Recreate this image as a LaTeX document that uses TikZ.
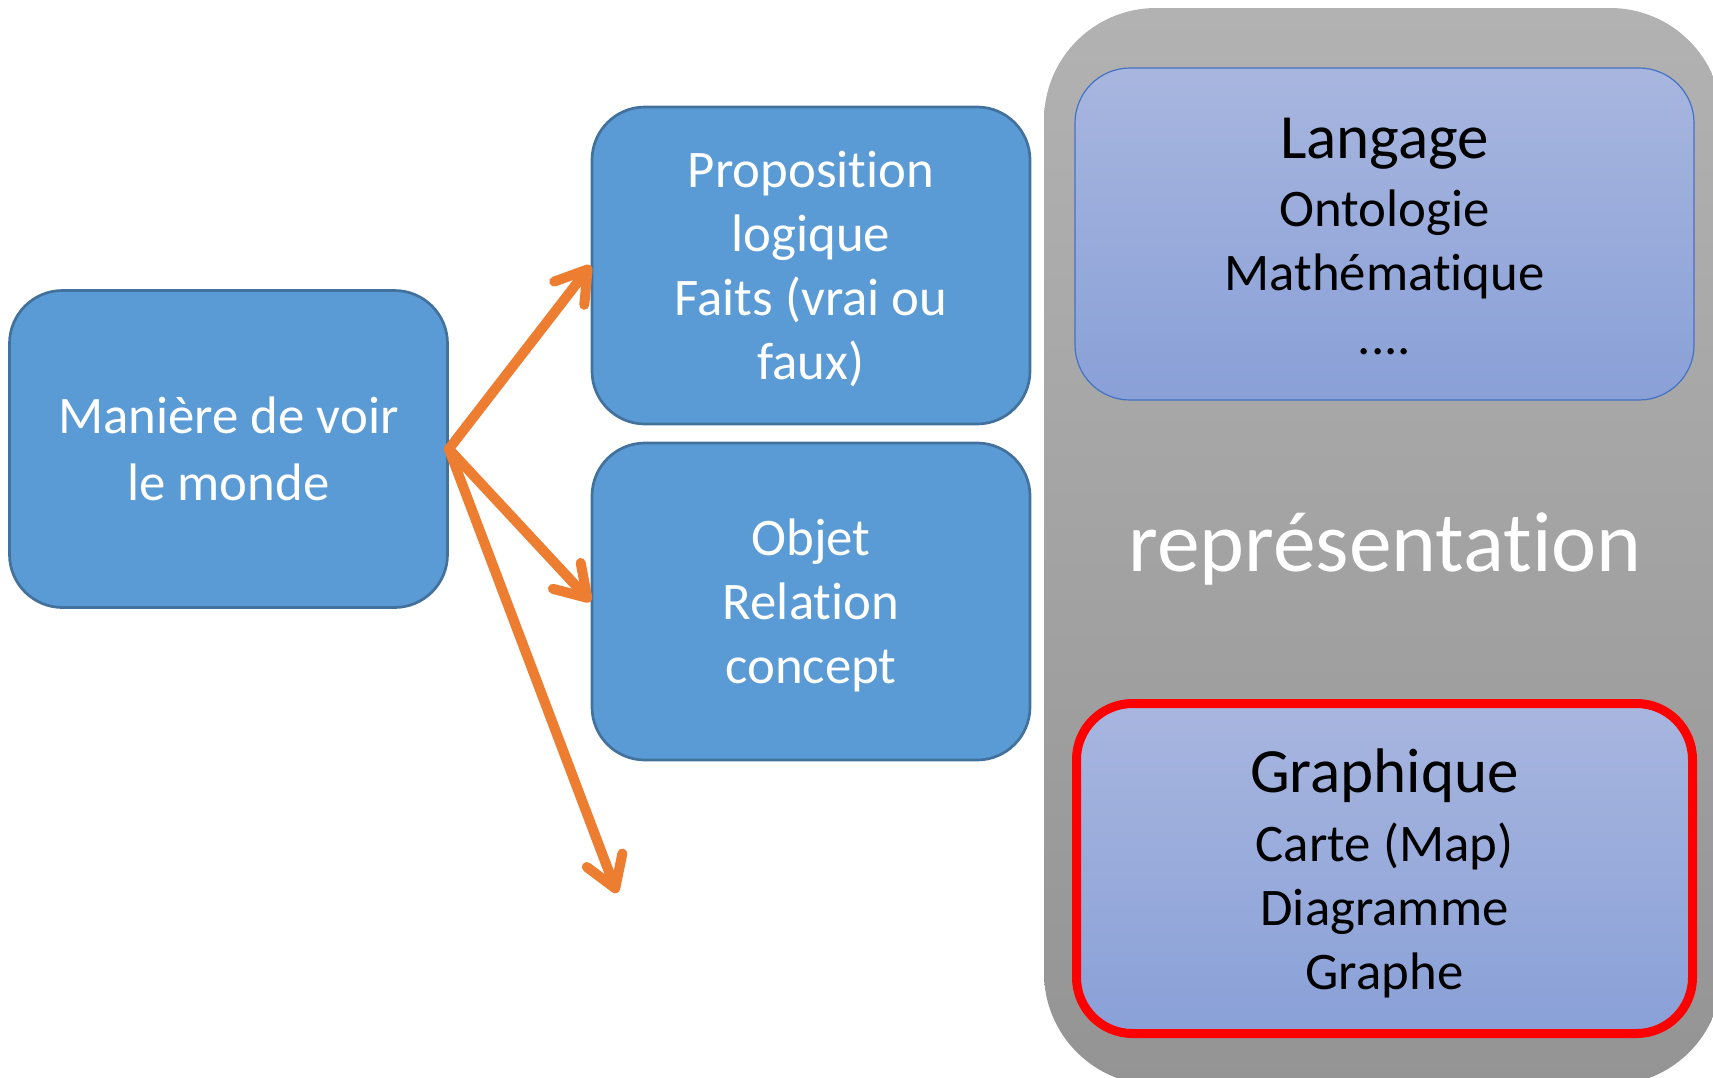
\documentclass[tikz,border=0pt]{standalone}
\usepackage{fontspec}
\setmainfont{Carlito}[Ligatures={NoCommon,NoRequired,NoContextual,NoRare}, RawFeature={-liga;-clig;-dlig;-calt;-rlig}]
\usetikzlibrary{arrows.meta}

\definecolor{boxblue}{HTML}{5B9BD5}
\definecolor{boxedge}{HTML}{41719C}
\definecolor{arrorange}{HTML}{ED7D31}
\definecolor{lavtop}{RGB}{168,182,223}
\definecolor{lavbot}{RGB}{137,160,215}
\definecolor{lavedge}{HTML}{4472C4}
\definecolor{graytop}{RGB}{178,178,178}
\definecolor{graybot}{RGB}{148,148,148}

% line strut with the ascent and descent of the face
\newcommand\ls{\vrule height 0.952em depth 0.269em width 0pt}
% t followed by i, kept as two separate glyphs
\newcommand\tI{t\kern0pt i}

\tikzset{
  bluebox/.style={draw=boxedge, line width=1.35pt, fill=boxblue,
    rounded corners=26.5pt, minimum width=219pt, minimum height=158.5pt,
    text=white, align=center, inner sep=0pt,
    font=\fontsize{26.4}{32}\selectfont},
  lavbox/.style={top color=lavtop, bottom color=lavbot, align=center,
    inner sep=0pt, text=black, font=\fontsize{26.4}{32}\selectfont},
  panel/.style={top color=graytop, bottom color=graybot, draw=none,
    rounded corners=56pt, inner sep=0pt},
  flow/.style={draw=arrorange, line width=5pt, line cap=round,
    -{Straight Barb[round, length=15pt, width=19pt]}}
}

\begin{document}
\begin{tikzpicture}[x=0.5pt, y=-0.5pt]
  \clip (0,0) rectangle (1713,1077);

  % right-hand representation panel
  \node[panel, minimum width=339pt, minimum height=538.5pt] (panel) at (1383,546.5) {};
  \node[text=white, font=\fontsize{42.7}{48}\selectfont] (rep) at (1385,549) {représenta\tI on};

  \node[lavbox, draw=lavedge, line width=0.6pt, rounded corners=27.5pt,
        minimum width=309.5pt, minimum height=166pt] (lang) at (1384.5,234)
    {{\fontsize{31.5}{32}\selectfont\ls Langage}\\[2pt] Ontologie\\ Mathéma\tI que\\ ....\ls};

  \node[lavbox, draw=red, line width=4.5pt, rounded corners=28pt,
        minimum width=308pt, minimum height=165pt] (graph) at (1384.5,868.5)
    {{\fontsize{31.5}{32}\selectfont\ls Graphique}\\[2.5pt] Carte (Map)\\ Diagramme\\ Graphe\ls};

  % left-hand blue boxes
  \node[bluebox] (monde) at (228.5,449) {\ls Manière de voir\\ le monde\ls};
  \node[bluebox] (prop) at (811,265.5) {\ls Proposi\tI on\\ logique\\ Faits (vrai ou\\ faux)\ls};
  \node[bluebox] (obj) at (811,601.5) {\ls Objet\\ Relation\\ concept\ls};

  \coordinate (free) at (617,893);

  \draw[flow] (monde.east) -- (prop.west);
  \draw[flow] (monde.east) -- (obj.west);
  \draw[flow] (monde.east) -- (free);
\end{tikzpicture}
\end{document}
